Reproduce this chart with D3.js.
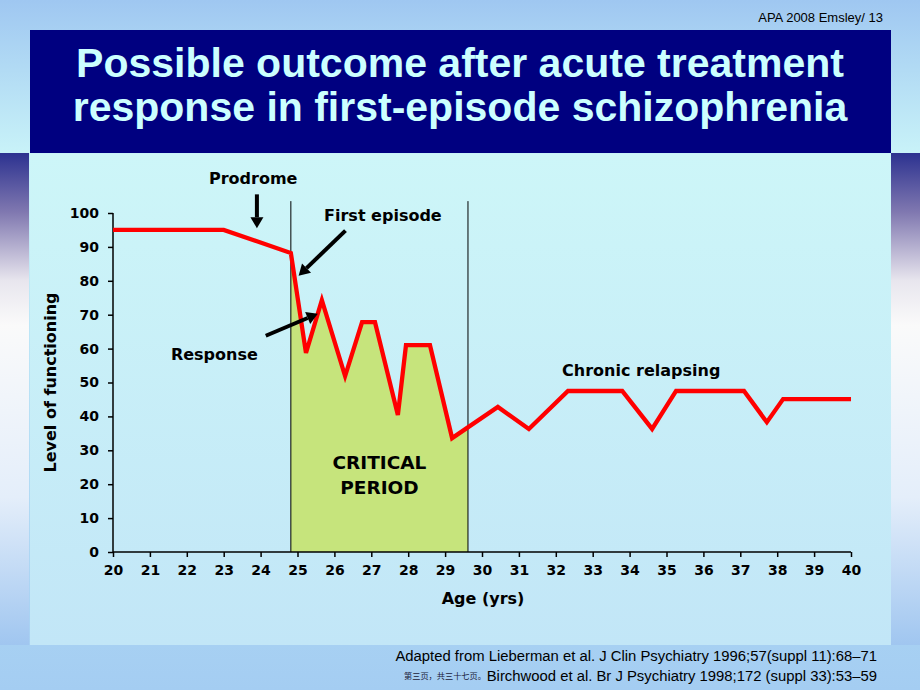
<!DOCTYPE html>
<html><head><meta charset="utf-8">
<script src="https://cdn.jsdelivr.net/npm/d3@7"></script>
<style>html,body{margin:0;padding:0;background:#a4cdf2;}svg{display:block;}</style>
</head><body>
<script>
// ---- data ----
const ages   = [20, 23, 24.82, 25.23, 25.66, 26.29, 26.75, 27.1, 27.72, 27.94, 28.59, 29.19, 30.43, 31.27, 32.33, 33.8, 34.61, 35.26, 37.1, 37.72, 38.16, 40];
const levels = [95, 95, 88.2, 58.7, 74.3, 51.9, 67.8, 67.8, 40.4, 61, 61, 33.6, 42.8, 36.3, 47.5, 47.5, 36.3, 47.5, 47.5, 38.3, 45.1, 45.1];
const criticalStart = 24.82, criticalEnd = 29.62;
const xTicks = d3.range(20, 41, 1);
const yTicks = d3.range(0, 101, 10);
const titleLines = ["Possible outcome after acute treatment", "response in first-episode schizophrenia"];
const headerText = "APA 2008 Emsley/ 13";
const refs = ["Adapted from Lieberman et al. J Clin Psychiatry 1996;57(suppl 11):68\u201371", "Birchwood et al. Br J Psychiatry 1998;172 (suppl 33):53\u201359"];
const pageNote = "第三页，共三十七页。";

const W = 920, H = 690;
const svg = d3.select("body").append("svg").attr("width", W).attr("height", H);
const defs = svg.append("defs");

// backgrounds
const bg = defs.append("linearGradient").attr("id","bg").attr("x1",0).attr("y1",0).attr("x2",0).attr("y2",1);
bg.append("stop").attr("offset","0%").attr("stop-color","#9fc7f1");
bg.append("stop").attr("offset","22%").attr("stop-color","#c8f2f8");
bg.append("stop").attr("offset","100%").attr("stop-color","#a4cdf2");
svg.append("rect").attr("width",W).attr("height",H).attr("fill","url(#bg)");

const strip = defs.append("linearGradient").attr("id","strip").attr("x1",0).attr("y1",0).attr("x2",0).attr("y2",1);
[["0%","#2c3290"],["12%","#8078b0"],["26%","#e8e6ee"],["35%","#fafafa"],["70%","#e4eefa"],["100%","#a0c6f0"]]
  .forEach(s=>strip.append("stop").attr("offset",s[0]).attr("stop-color",s[1]));
svg.append("rect").attr("x",0).attr("y",153).attr("width",29).attr("height",492).attr("fill","url(#strip)");
svg.append("rect").attr("x",891).attr("y",153).attr("width",29).attr("height",492).attr("fill","url(#strip)");

const panel = defs.append("linearGradient").attr("id","panel").attr("x1",0).attr("y1",0).attr("x2",0).attr("y2",1);
panel.append("stop").attr("offset","0%").attr("stop-color","#cdf6f8");
panel.append("stop").attr("offset","100%").attr("stop-color","#c2e6f7");
svg.append("rect").attr("x",30).attr("y",154).attr("width",861).attr("height",491).attr("fill","url(#panel)");

// title box
svg.append("rect").attr("x",30).attr("y",30).attr("width",861).attr("height",123).attr("fill","#000080");
svg.append("g").selectAll("text").data(titleLines).join("text")
  .attr("x",460).attr("y",(d,i)=>77+i*44).attr("text-anchor","middle")
  .attr("font-family","Liberation Sans, Arial, sans-serif").attr("font-weight","bold")
  .attr("font-size",41).attr("fill","#ccffff").text(d=>d);

svg.append("text").attr("x",883).attr("y",22).attr("text-anchor","end")
  .attr("font-family","Liberation Sans, Arial, sans-serif").attr("font-size",13).attr("fill","#000").text(headerText);

// scales
const x = d3.scaleLinear().domain([20,40]).range([113,851]);
const y = d3.scaleLinear().domain([0,100]).range([552,213]);
const pts = ages.map((a,i)=>[a, levels[i]]);
const FONT = "DejaVu Sans, Verdana, sans-serif";

// critical period fill
defs.append("clipPath").attr("id","crit").append("rect")
  .attr("x",x(criticalStart)).attr("y",0).attr("width",x(criticalEnd)-x(criticalStart)).attr("height",y(0));
svg.append("path").datum(pts).attr("clip-path","url(#crit)")
  .attr("d", d3.area().x(d=>x(d[0])).y0(y(0)).y1(d=>y(d[1])))
  .attr("fill","#c6e47c");
svg.selectAll(".vline").data([criticalStart, criticalEnd]).join("line")
  .attr("x1",d=>x(d)).attr("x2",d=>x(d)).attr("y1",y(103.5)).attr("y2",y(0))
  .attr("stroke","#000").attr("stroke-width",1);

// axes
const gx = svg.append("g").attr("transform",`translate(0,${y(0)})`)
  .call(d3.axisBottom(x).tickValues(xTicks).tickSize(5).tickPadding(8).tickFormat(d3.format("d")));
const gy = svg.append("g").attr("transform",`translate(${x(20)},0)`)
  .call(d3.axisLeft(y).tickValues(yTicks).tickSize(5).tickPadding(9).tickFormat(d3.format("d")));
[gx,gy].forEach(g=>{
  g.selectAll("path,line").attr("stroke","#000").attr("stroke-width",1.5);
  g.selectAll("text").attr("font-family",FONT).attr("font-weight","bold").attr("font-size",14).attr("fill","#000");
});
gx.select(".domain").attr("d",`M${x(20)},0H${x(40)}`);
gy.select(".domain").attr("d",`M0,${y(0)}V${y(100)}`);

svg.append("text").attr("x",483).attr("y",604).attr("text-anchor","middle")
  .attr("font-family",FONT).attr("font-weight","bold").attr("font-size",16).text("Age (yrs)");
svg.append("text").attr("transform",`translate(56,${y(50)}) rotate(-90)`).attr("text-anchor","middle")
  .attr("font-family",FONT).attr("font-weight","bold").attr("font-size",16).text("Level of functioning");

// line
svg.append("path").datum(pts)
  .attr("d", d3.line().x(d=>x(d[0])).y(d=>y(d[1])))
  .attr("fill","none").attr("stroke","#ff0000").attr("stroke-width",4.3).attr("stroke-linejoin","miter");

// critical label
svg.append("g").selectAll("text").data(["CRITICAL","PERIOD"]).join("text")
  .attr("x",x(27.22)).attr("y",(d,i)=>y(24.5)+i*25).attr("text-anchor","middle")
  .attr("font-family",FONT).attr("font-weight","bold").attr("font-size",18.5).text(d=>d);

// annotations
function arrow(x1,y1,x2,y2){
  const ang = Math.atan2(y2-y1,x2-x1), L=11, Wd=6.5;
  const bx = x2 - L*Math.cos(ang), by = y2 - L*Math.sin(ang);
  svg.append("line").attr("x1",x1).attr("y1",y1).attr("x2",bx).attr("y2",by)
    .attr("stroke","#000").attr("stroke-width",4);
  const px = -Math.sin(ang)*Wd, py = Math.cos(ang)*Wd;
  svg.append("polygon").attr("points",`${x2},${y2} ${bx+px},${by+py} ${bx-px},${by-py}`).attr("fill","#000");
}
arrow(x(23.9), y(105.5), x(23.9), y(95.5));
arrow(x(26.3), y(94.8), x(25.03), y(81.5));
arrow(x(24.14), y(63.8), x(25.55), y(70.3));

const ann = svg.append("g").attr("font-family",FONT).attr("font-weight","bold").attr("font-size",16).attr("fill","#000");
ann.append("text").attr("x",x(23.8)).attr("y",184).attr("text-anchor","middle").text("Prodrome");
ann.append("text").attr("x",x(25.72)).attr("y",221).text("First episode");
ann.append("text").attr("x",x(21.57)).attr("y",360).text("Response");
ann.append("text").attr("x",x(32.17)).attr("y",376).text("Chronic relapsing");

// references
svg.append("g").selectAll("text").data(refs).join("text")
  .attr("x",877).attr("y",(d,i)=>661+i*20).attr("text-anchor","end")
  .attr("font-family","Liberation Sans, Arial, sans-serif").attr("font-size",14.85).attr("fill","#000").text(d=>d);
svg.append("text").attr("x",404).attr("y",679).attr("font-family","Noto Sans CJK SC, sans-serif")
  .attr("font-size",8.2).attr("fill","#1a1a3a").text(pageNote);
</script>
</body></html>
